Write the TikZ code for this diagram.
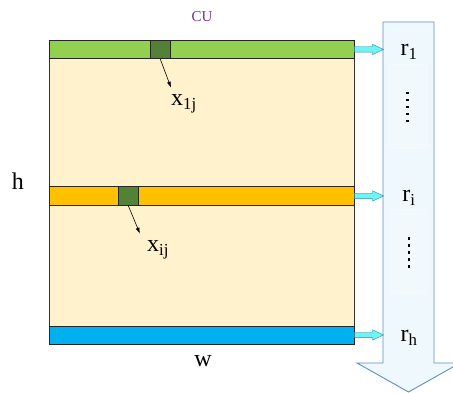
\documentclass[tikz,border=0pt]{standalone}
\usepackage{fontspec}
\setmainfont{Liberation Serif}
\usepackage{tikz}
\usetikzlibrary{positioning, arrows.meta, shapes.arrows, calc}
\usepackage{xcolor}

\definecolor{cellbg}{HTML}{FFF2CC}
\definecolor{rowgreen}{HTML}{92D050}
\definecolor{roworange}{HTML}{FFC000}
\definecolor{rowblue}{HTML}{00B0F0}
\definecolor{cellgreen}{HTML}{538135}
\definecolor{flowfill}{HTML}{EFF8FC}
\definecolor{flowline}{HTML}{5E8EC6}
\definecolor{pipefill}{HTML}{6EF4F6}
\definecolor{pipeline}{HTML}{2F8C9C}
\definecolor{cupurple}{HTML}{7030A0}

\begin{document}
\begin{tikzpicture}[
    x=1pt, y=-1pt,
    panel/.style={draw=black!80, fill=cellbg, minimum width=305pt, minimum height=304pt, inner sep=0pt, anchor=north west},
    row/.style={draw=black!85, minimum width=305pt, minimum height=18.5pt, inner sep=0pt, anchor=north west},
    cell/.style={draw=black!85, fill=cellgreen, minimum width=20pt, minimum height=18.5pt, inner sep=0pt, anchor=north west},
    lbl/.style={font=\fontsize{24}{28}\selectfont, inner sep=0pt},
    pipe/.style={single arrow, draw=pipeline, fill=pipefill, minimum height=29pt, inner xsep=0pt, inner ysep=2.5pt,
                 single arrow head extend=2.5pt, single arrow head indent=0pt, single arrow tip angle=50, anchor=west},
    slot/.style={draw=white!30!flowfill, fill=white!20!flowfill, minimum width=37pt, minimum height=84pt, inner sep=0pt},
    arrow/.style={-{Latex[length=6pt, width=4pt]}, semithick}
]
\useasboundingbox (0,0) rectangle (453,393);
\clip (0,0) rectangle (453,393);

% Big arrow on the right
\coordinate (shaftNW) at (383,22);
\coordinate (shaftNE) at (434,22);
\coordinate (tip) at (408.5,392);
\draw[flowline, fill=flowfill, line width=0.9pt] (shaftNW) -- (shaftNE) -- (434,363) -- (460,363) -- (tip)
    -- (357,363) -- (383,363) -- cycle;
\node[slot] (slot1) at (407.5,106) {};
\node[slot] (slot2) at (409,251.5) {};

% Nodes
\node[panel] (panel) at (49,40) {};
\node[row, fill=rowgreen] (row1) at (49,40) {};
\node[row, fill=roworange] (rowi) at (49,186.5) {};
\node[row, fill=rowblue] (rowh) at (49,325.5) {};
\node[cell] (c1) at (150,40) {};
\node[cell] (ci) at (118,186.5) {};

\node[lbl, font=\fontsize{15}{17}\selectfont, text=cupurple] (cu) at (202,17) {CU};
\node[lbl] (h) at (18,181) {h};
\node[lbl] (w) at (203,361) {w};
\node[lbl] (x1j) at (184,104) {x\textsubscript{1j}};
\node[lbl] (xij) at (158,250) {x\textsubscript{ij}};

\node[lbl] (r1) at (409,52) {r\textsubscript{1}};
\node[lbl] (ri) at (409,198) {r\textsubscript{i}};
\node[lbl] (rh) at (409,338) {r\textsubscript{h}};

% vertical dots
\foreach \k in {0,...,4} {
  \fill (slot1.center) ++(-1.2,-14.2+7*\k) rectangle ++(2.4,2.4);
  \fill (slot2.center) ++(-1.2,-14.2+7*\k) rectangle ++(2.4,2.4);
}

% Edges
\draw[arrow] (c1.south) -- ($(x1j.north west)+(0,-7)$);
\draw[arrow] (ci.south) -- ($(xij.north west)+(-7,-7)$);
\node[pipe] (p1) at (row1.east) {};
\node[pipe] (pi) at (rowi.east) {};
\node[pipe] (ph) at (rowh.east) {};

\end{tikzpicture}
\end{document}
